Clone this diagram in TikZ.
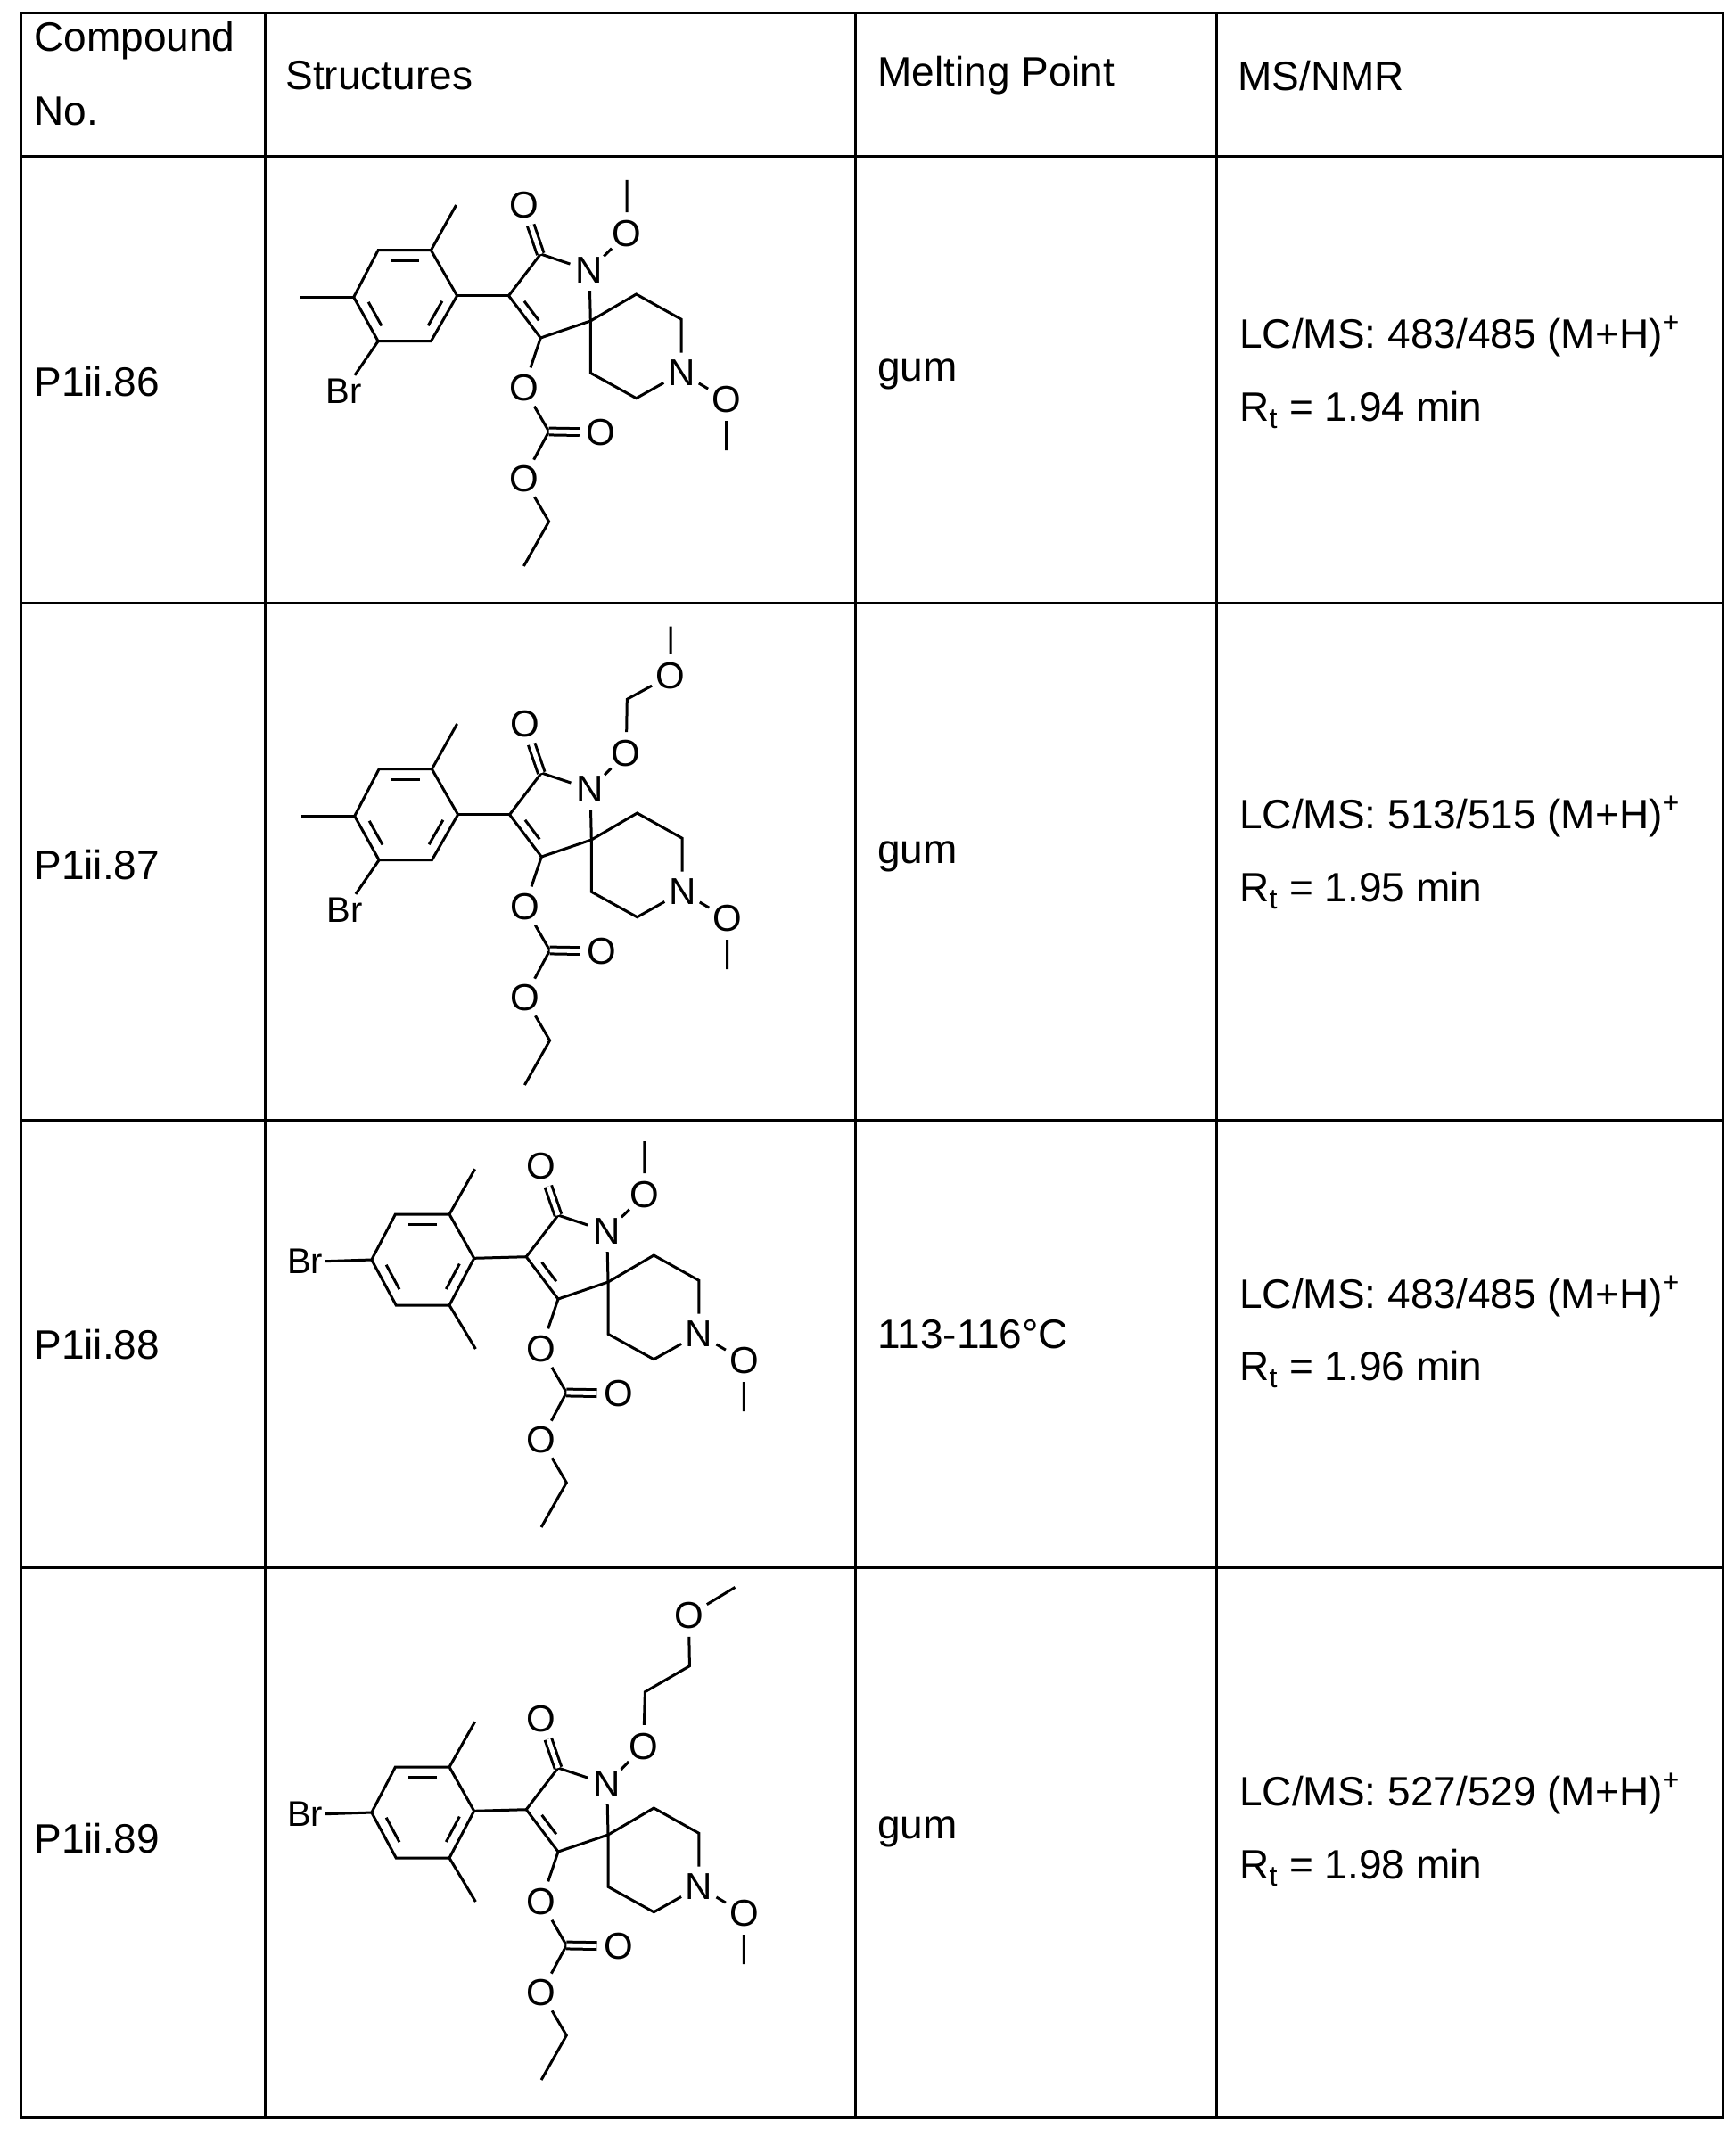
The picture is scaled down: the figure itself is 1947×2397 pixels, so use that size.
\documentclass[tikz,border=0pt]{standalone}
\usepackage{fontspec}
\setmainfont{Liberation Sans}
\usetikzlibrary{calc}
\tikzset{
 bond/.style={line width=1.5pt},
 dbl/.style={line width=1.5pt, double distance=2.4pt},
 atom/.style={font=\fontsize{21}{21}\selectfont, inner sep=0.5pt, circle},
 brl/.style={font=\fontsize{20}{20}\selectfont, inner sep=2pt},
 txt/.style={font=\fontsize{23}{27}\selectfont, anchor=west, inner sep=0pt},
 gridline/.style={line width=1.5pt}
}
\newcommand{\corepart}{%
 \coordinate (s) at (0,0);
 \coordinate (c3) at (-91.8,-28.3);
 \coordinate (c2) at (-56,-75);
 \node[atom] (n1) at (-1.3,-56.7) {N};
 \coordinate (c4) at (-56,19);
 \coordinate (rc) at (-52,-24);
 \node[atom] (oc) at (-74.9,-130) {O};
 \node[atom] (oe) at (-74.9,75) {O};
 \coordinate (cc) at (-46.7,124);
 \node[atom] (od) at (11.4,125) {O};
 \node[atom] (oet) at (-74.9,176.7) {O};
 \coordinate (ch2) at (-46.7,225);
 \coordinate (ch3) at (-74.9,275);
 \coordinate (p1) at (51.3,-30);
 \coordinate (p2) at (101.9,-1.7);
 \node[atom] (n2) at (101.9,58.3) {N};
 \coordinate (p4) at (51.3,86.7);
 \coordinate (p5) at (0,58.3);
 \node[atom] (on2) at (152.4,88.3) {O};
 \coordinate (me2) at (152.4,145);
 \draw[bond] (c3) -- (c2) -- (n1) -- (s) -- (c4) -- (c3);
 \draw[bond] ($(c3)!.15!(c4)!.35!(rc)$) -- ($(c4)!.15!(c3)!.35!(rc)$);
 \draw[dbl] (c2) -- (oc);
 \draw[bond] (s) -- (p1) -- (p2) -- (n2) -- (p4) -- (p5) -- (s);
 \draw[bond] (n2) -- (on2) -- (me2);
 \draw[bond] (c4) -- (oe) -- (cc) -- (oet) -- (ch2) -- (ch3);
 \draw[dbl] (cc) -- (od);
}
\newcommand{\ringpart}[6]{%
 \coordinate (a1) at #1; \coordinate (a2) at #2; \coordinate (a3) at #3;
 \coordinate (a4) at #4; \coordinate (a5) at #5; \coordinate (a6) at #6;
 \coordinate (ac) at ($(a1)!.5!(a4)$);
 \draw[bond] (c3) -- (a1);
 \draw[bond] (a1) -- (a2) -- (a3) -- (a4) -- (a5) -- (a6) -- cycle;
 \draw[bond] ($(a2)!.15!(a3)!.23!(ac)$) -- ($(a3)!.15!(a2)!.23!(ac)$);
 \draw[bond] ($(a4)!.15!(a5)!.23!(ac)$) -- ($(a5)!.15!(a4)!.23!(ac)$);
 \draw[bond] ($(a6)!.15!(a1)!.23!(ac)$) -- ($(a1)!.15!(a6)!.23!(ac)$);
}
\newcommand{\arylA}{%
 \ringpart{(-149.7,-28.3)}{(-178.9,-79.3)}{(-238.2,-79.3)}{(-265.6,-26.7)}{(-238.2,22.7)}{(-178.9,22.7)}
 \coordinate (m1) at (-150.7,-130); \coordinate (m2) at (-325.3,-26.7);
 \node[brl] (br) at (-276.8,79) {Br};
 \draw[bond] (a2) -- (m1); \draw[bond] (a4) -- (m2); \draw[bond] (a5) -- (br);
}
\newcommand{\arylB}{%
 \ringpart{(-150.3,-26.7)}{(-178,-76)}{(-238.6,-76)}{(-265.2,-25)}{(-237.8,26)}{(-178,26)}
 \coordinate (m1) at (-149.4,-126.7); \coordinate (m2) at (-148.6,75);
 \node[brl, inner sep=1pt] (br) at (-340,-23.3) {Br};
 \draw[bond] (a2) -- (m1); \draw[bond] (a6) -- (m2); \draw[bond] (a4) -- (br.east);
}
\newcommand{\subA}{%
 \node[atom] (q1) at (40.8,-98) {O}; \coordinate (q2) at (40.8,-158);
 \draw[bond] (n1) -- (q1) -- (q2);
}
\newcommand{\subB}{%
 \node[atom] (q1) at (39,-97) {O}; \coordinate (q2) at (40,-157.7);
 \node[atom] (q3) at (88.7,-184.3) {O}; \coordinate (q4) at (88.7,-239.3);
 \draw[bond] (n1) -- (q1) -- (q2) -- (q3) -- (q4);
}
\newcommand{\subC}{%
 \node[atom] (q1) at (39.7,-99.3) {O}; \coordinate (q2) at (41.4,-160.3);
 \coordinate (q3) at (91.4,-189.3); \node[atom] (q4) at (90.4,-246) {O};
 \coordinate (q5) at (142.4,-277.6);
 \draw[bond] (n1) -- (q1) -- (q2) -- (q3) -- (q4) -- (q5);
}
\begin{document}
\begin{tikzpicture}[x=0.5pt,y=-0.5pt]
\useasboundingbox (0,0) rectangle (1947,2397);
\fill[white] (0,0) rectangle (1947,2397);
% grid
\coordinate (tl) at (23,15); \coordinate (br0) at (1932,2375);
\draw[gridline] (tl) rectangle (br0);
\foreach \yy [count=\i] in {176,676,1256,1758} \draw[gridline] (23,\yy) coordinate (h\i) -- (1932,\yy);
\foreach \xx [count=\i] in {297,959,1364} \draw[gridline] (\xx,15) coordinate (v\i) -- (\xx,2375);
% header
\node[txt] (hc1) at (38,46) {Compound};
\node[txt] (hc2) at (38,125) {No.};
\node[txt] (hs) at (320,85) {Structures};
\node[txt] (hm) at (984,85) {Melting Point};
\node[txt] (hn) at (1388,85) {MS/NMR};
% rows
\node[txt] (r1a) at (38,428) {P1ii.86};
\node[txt] (r1b) at (984,420) {gum};
\node[txt] (r1c) at (1390,377) {LC/MS: 483/485 (M+H)\textsuperscript{+}};
\node[txt] (r1d) at (1390,460) {R\textsubscript{t} = 1.94 min};
\node[txt] (r2a) at (38,970) {P1ii.87};
\node[txt] (r2b) at (984,961) {gum};
\node[txt] (r2c) at (1390,916) {LC/MS: 513/515 (M+H)\textsuperscript{+}};
\node[txt] (r2d) at (1390,999) {R\textsubscript{t} = 1.95 min};
\node[txt] (r3a) at (38,1508) {P1ii.88};
\node[txt] (r3b) at (984,1497) {113-116°C};
\node[txt] (r3c) at (1390,1454) {LC/MS: 483/485 (M+H)\textsuperscript{+}};
\node[txt] (r3d) at (1390,1536) {R\textsubscript{t} = 1.96 min};
\node[txt] (r4a) at (38,2062) {P1ii.89};
\node[txt] (r4b) at (984,2055) {gum};
\node[txt] (r4c) at (1390,2012) {LC/MS: 527/529 (M+H)\textsuperscript{+}};
\node[txt] (r4d) at (1390,2095) {R\textsubscript{t} = 1.98 min};
% molecules
\begin{scope}[shift={(662.3,360)}, name prefix=m1-]\corepart\arylA\subA\end{scope}
\begin{scope}[shift={(663.3,942)}, name prefix=m2-]\corepart\arylA\subB\end{scope}
\begin{scope}[shift={(682,1438)}, name prefix=m3-]\corepart\arylB\subA\end{scope}
\begin{scope}[shift={(682,2058)}, name prefix=m4-]\corepart\arylB\subC\end{scope}
\end{tikzpicture}
\end{document}
